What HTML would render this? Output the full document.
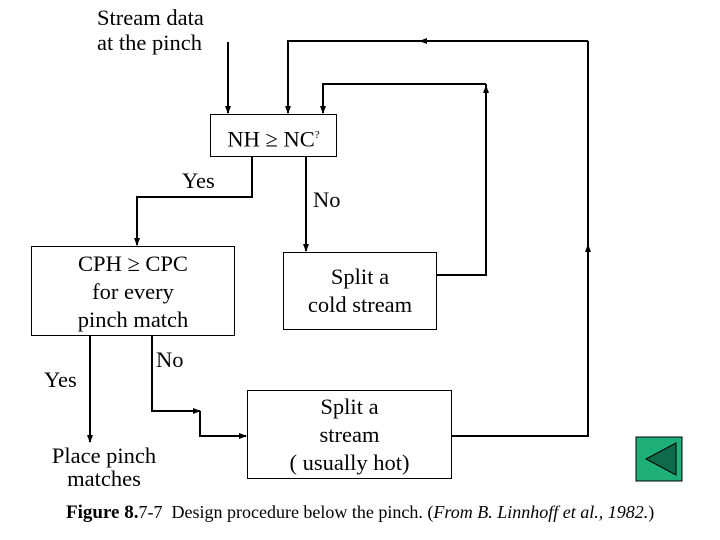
<!DOCTYPE html>
<html><head><style>
body{margin:0;width:720px;height:540px;background:#fff;position:relative;overflow:hidden;font-family:"Liberation Serif",serif;}
.t{position:absolute;font-size:22.5px;color:#000;text-align:center;line-height:28px;white-space:nowrap;}
.b{position:absolute;border:1px solid #000;box-sizing:border-box;}
</style></head><body>
<svg width="720" height="540" style="position:absolute;left:0;top:0">
<defs><marker id="a" markerWidth="8" markerHeight="8" refX="7" refY="4" orient="auto" markerUnits="userSpaceOnUse"><path d="M0,1 L8,4 L0,7 z" fill="#000"/></marker></defs>
<g stroke="#000" stroke-width="2" fill="none">
<line x1="228" y1="42" x2="228" y2="113" marker-end="url(#a)"/>
<polyline points="588,41 288,41 288,113" marker-end="url(#a)"/>
<line x1="588" y1="41" x2="420" y2="41" marker-end="url(#a)"/>
<polyline points="486,84 323,84 323,113" marker-end="url(#a)"/>
<polyline points="437,275 486,275 486,84" />
<line x1="486" y1="275" x2="486" y2="86" marker-end="url(#a)"/>
<polyline points="452,436 588,436 588,41"/>
<line x1="588" y1="436" x2="588" y2="245" marker-end="url(#a)"/>
<line x1="306" y1="156" x2="306" y2="251" marker-end="url(#a)"/>
<polyline points="252,156 252,197 137,197 137,245" marker-end="url(#a)"/>
<line x1="90" y1="335" x2="90" y2="442" marker-end="url(#a)"/>
<polyline points="152,335 152,411 200,411" marker-end="url(#a)"/>
<polyline points="200,411 200,436 246,436" marker-end="url(#a)"/>
</g>
<rect x="636" y="437" width="46" height="44" fill="#1fb07a" stroke="#000" stroke-width="1"/>
<polygon points="646,459 676,443 676,475" fill="#0d6a4a" stroke="#000" stroke-width="1"/>
</svg>
<div class="t" style="left:97px;top:5px;text-align:left;line-height:25px">Stream data<br>at the pinch</div>
<div class="b" style="left:210px;top:114px;width:127px;height:43px"></div>
<div class="t" style="left:210px;top:121px;width:127px">NH &ge; NC<sup style="font-size:11px">?</sup></div>
<div class="t" style="left:182px;top:167px">Yes</div>
<div class="t" style="left:313px;top:186px">No</div>
<div class="b" style="left:31px;top:246px;width:204px;height:90px"></div>
<div class="t" style="left:31px;top:250px;width:204px">CPH &ge; CPC<br>for every<br>pinch match</div>
<div class="b" style="left:283px;top:252px;width:154px;height:78px"></div>
<div class="t" style="left:283px;top:263px;width:154px">Split a<br>cold stream</div>
<div class="t" style="left:156px;top:346px">No</div>
<div class="t" style="left:44px;top:366px">Yes</div>
<div class="b" style="left:247px;top:390px;width:205px;height:89px"></div>
<div class="t" style="left:247px;top:393px;width:205px">Split a<br>stream<br>( usually hot)</div>
<div class="t" style="left:40px;top:444px;width:128px;line-height:23px">Place pinch<br>matches</div>
<div style="position:absolute;left:66px;top:502px;font-size:18px;white-space:nowrap"><b style="font-size:19px">Figure 8.</b>7-7&nbsp; Design procedure below the pinch. (<i>From B. Linnhoff et al., 1982.</i>)</div>
</body></html>
